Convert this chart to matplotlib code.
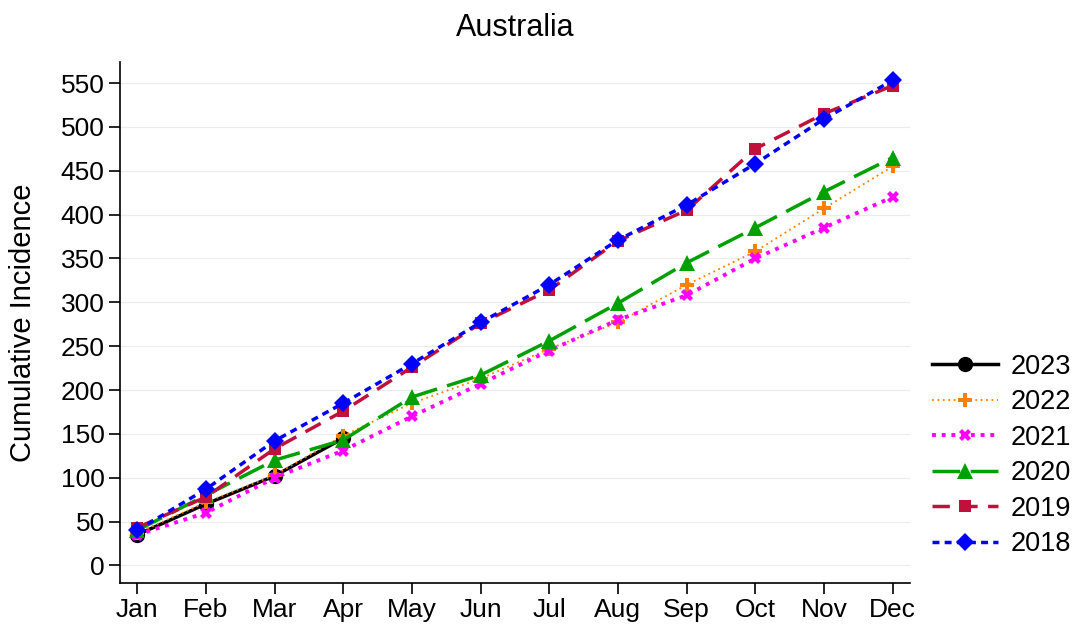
import matplotlib
matplotlib.use("Agg")
import matplotlib.pyplot as plt

plt.rcParams['font.family'] = ['Liberation Sans', 'DejaVu Sans']

# Datos
meses = ["Jan", "Feb", "Mar", "Apr", "May", "Jun", "Jul", "Aug", "Sep", "Oct", "Nov", "Dec"]
años = ["2023", "2022", "2021", "2020", "2019", "2018"]

inc_2023 = [35, 70, 102, 145]
inc_2022 = [37, 72, 103, 148, 185, 213, 247, 277, 320, 358, 407, 455]
inc_2021 = [35, 60, 100, 131, 170, 207, 245, 280, 308, 350, 385, 420]
inc_2020 = [40, 80, 120, 143, 192, 217, 256, 299, 345, 385, 426, 465]
inc_2019 = [43, 78, 133, 176, 226, 276, 314, 370, 405, 475, 515, 547]
inc_2018 = [40, 87, 142, 185, 230, 277, 320, 371, 411, 458, 509, 553]

series = [inc_2023, inc_2022, inc_2021, inc_2020, inc_2019, inc_2018]

# Estilo de cada serie: color, marcador, linea, grosor, tamaño marcador
estilos = [
	("black", "o", "-", 2.5, 11),
	("#FF8000", "P", (0, (1, 2)), 1.3, 10),
	("#FF00FF", "X", (0, (1, 1.5)), 2.8, 8),
	("#00A000", "^", (0, (8, 3)), 2.5, 11),
	("#C0103C", "s", (0, (5, 3)), 2.5, 9),
	("#0000FF", "D", (0, (2, 1.5)), 2.5, 9),
]

fig = plt.figure(figsize=(10.78, 6.24), dpi=100)
ax = fig.add_axes([0.1113, 0.0657, 0.7327, 0.835])

for nombre, valores, (color, marcador, linea, grosor, tam) in zip(años, series, estilos):
	x = list(range(1, len(valores) + 1))
	ax.plot(x, valores, color=color, marker=marcador, linestyle=linea, linewidth=grosor,
		markersize=tam, markeredgewidth=0, label=nombre)

ax.set_xlim(0.75, 12.25)
ax.set_ylim(-20, 574)
ax.set_xticks(range(1, 13))
ax.set_xticklabels(meses)
ax.set_yticks(range(0, 551, 50))
ax.tick_params(axis='both', labelsize=19, length=8, width=1.2, pad=3)
ax.grid(axis='y', color='#E8ECEC', linewidth=0.8)
ax.set_axisbelow(True)
for lado in ['top', 'right']:
	ax.spines[lado].set_visible(False)
for lado in ['left', 'bottom']:
	ax.spines[lado].set_linewidth(1.2)

ax.set_ylabel("Cumulative Incidence", fontsize=21, labelpad=17)
ax.set_title("Australia", fontsize=22, pad=19)

ax.legend(loc='center left', bbox_to_anchor=(1.028, 0.245), frameon=False, fontsize=19.5,
	handlelength=2.45, handletextpad=0.47, labelspacing=0.35, borderpad=0, borderaxespad=0)

fig.savefig("out.png", dpi=100)
